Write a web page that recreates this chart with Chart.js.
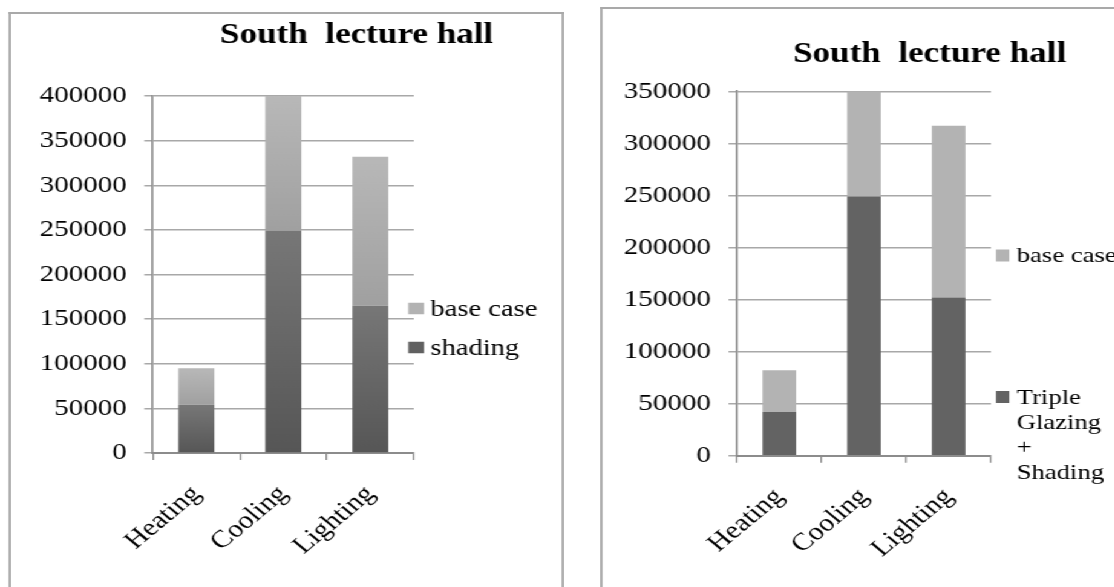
<!DOCTYPE html>
<html>
<head>
<meta charset="utf-8">
<script src="https://cdn.jsdelivr.net/npm/chart.js@4/dist/chart.umd.min.js"></script>
<style>
  html, body { margin: 0; padding: 0; background: #fff; width: 1114px; height: 587px; overflow: hidden; }
  /* the whole figure is laid out in a narrower frame and widened horizontally */
  #stage { position: absolute; left: 0; top: 0; width: 921px; height: 587px; transform: scaleX(1.21); transform-origin: 0 0; overflow: hidden; }
  .rule { position: absolute; background: #a9a9a9; }
  canvas { position: absolute; top: 0; }
  #cL { left: 0; width: 480px; height: 587px; }
  #cR { left: 490px; width: 431px; height: 587px; }
</style>
</head>
<body>
<div id="stage">
  <!-- panel outlines -->
  <div class="rule" style="left:7px;top:12px;width:459px;height:2px"></div>
  <div class="rule" style="left:7px;top:12px;width:1.7px;height:600px"></div>
  <div class="rule" style="left:464.2px;top:12px;width:1.7px;height:600px"></div>
  <div class="rule" style="left:496.2px;top:7px;width:430px;height:2px"></div>
  <div class="rule" style="left:496.2px;top:7px;width:1.7px;height:600px"></div>
  <canvas id="cL" width="480" height="587"></canvas>
  <canvas id="cR" width="431" height="587"></canvas>
</div>
<script>
// Energy use of the south lecture hall per end use
const categories = ['Heating', 'Cooling', 'Lighting'];

// left panel: shading measure stacked with the remaining base-case share
const leftShading = [54000, 249000, 165000];
const leftBaseCase = [41000, 151000, 167000];
const leftTickLabels = ['0', '50000', '100000', '150000', '200000', '250000', '300000', '350000', '400000'];

// right panel: triple glazing + shading stacked with the remaining base-case share
const rightTripleShading = [42000, 249000, 152000];
const rightBaseCase = [40000, 101000, 165000];
const rightTickLabels = ['0', '50000', '100000', '150000', '200000', '250000', '300000', '350000'];

const SERIF = "'Liberation Serif', 'Times New Roman', serif";

// vertical gradient over each stacked segment, computed from the data through the y scale
function segmentGradient(top, bottom) {
  return (ctx) => {
    const chart = ctx.chart;
    if (!chart.chartArea || ctx.type !== 'data') return bottom;
    const y = chart.scales.y;
    const i = ctx.dataIndex;
    let start = 0;
    for (let k = 0; k < ctx.datasetIndex; k++) start += chart.data.datasets[k].data[i];
    const end = start + chart.data.datasets[ctx.datasetIndex].data[i];
    const g = chart.ctx.createLinearGradient(0, y.getPixelForValue(end), 0, y.getPixelForValue(start));
    g.addColorStop(0, top);
    g.addColorStop(1, bottom);
    return g;
  };
}

function wrapWords(c, text, maxWidth) {
  const words = text.split(' ');
  const lines = [];
  let cur = '';
  words.forEach(w => {
    const test = cur ? cur + ' ' + w : w;
    if (cur && c.measureText(test).width > maxWidth) { lines.push(cur); cur = w; }
    else cur = test;
  });
  if (cur) lines.push(cur);
  return lines;
}

// title and side legend of each panel
const panelText = {
  id: 'panelText',
  afterDraw(chart, args, o) {
    const c = chart.ctx;
    c.save();
    c.fillStyle = '#000';
    c.font = `bold ${o.titleSize}px ${SERIF}`;
    c.textAlign = 'center';
    c.textBaseline = 'alphabetic';
    c.fillText(o.title, o.titleX, o.titleY);
    c.font = `${o.legendSize}px ${SERIF}`;
    c.textAlign = 'left';
    o.items.forEach(item => {
      const ds = chart.data.datasets[item.dataset];
      c.fillStyle = item.swatch;
      c.fillRect(o.swatchX, item.y - o.swatchH / 2, o.swatchW, o.swatchH);
      c.fillStyle = '#000';
      wrapWords(c, ds.label, o.maxWidth).forEach((ln, j) => {
        c.fillText(ln, o.textX, item.y + o.baseline + j * o.lineHeight);
      });
    });
    c.restore();
  }
};

function scalesFor(max, step, tickLabels, axisWidth, xHeight, labelPad) {
  return {
    x: {
      stacked: true,
      grid: { drawOnChartArea: false, drawTicks: true, tickLength: 7, color: '#8c8c8c', lineWidth: 1.3 },
      border: { color: '#8c8c8c', width: 2 },
      ticks: { color: '#000', font: { family: SERIF, size: 24.5 }, minRotation: 45, maxRotation: 45, padding: 20, autoSkip: false },
      afterFit: s => { s.height = xHeight; }
    },
    y: {
      stacked: true, min: 0, max: max,
      grid: { color: '#a8a8a8', lineWidth: 1.5, tickLength: 7 },
      border: { color: '#8c8c8c', width: 1.7 },
      ticks: { stepSize: step, color: '#000', font: { family: SERIF, size: 24 }, padding: labelPad,
               callback: (v, i) => tickLabels[i] },
      afterFit: s => { s.width = axisWidth; }
    }
  };
}

new Chart(document.getElementById('cL'), {
  type: 'bar',
  data: {
    labels: categories,
    datasets: [
      { label: 'shading', data: leftShading, backgroundColor: segmentGradient('#777777', '#565656') },
      { label: 'base case', data: leftBaseCase, backgroundColor: segmentGradient('#b8b8b8', '#a0a0a0') }
    ]
  },
  options: {
    responsive: false, animation: false, devicePixelRatio: 1,
    layout: { padding: { left: 0, top: 96, right: 138, bottom: 0 } },
    datasets: { bar: { categoryPercentage: 1, barPercentage: 0.414 } },
    plugins: {
      legend: { display: false }, tooltip: { enabled: false },
      panelText: {
        title: 'South  lecture hall', titleSize: 29, titleX: 294.7, titleY: 43,
        legendSize: 23.6, swatchX: 337.4, swatchW: 13, swatchH: 11.5, textX: 355.7,
        baseline: 7.5, lineHeight: 25, maxWidth: 140,
        items: [ { dataset: 1, y: 308.5, swatch: '#b2b2b2' }, { dataset: 0, y: 347.5, swatch: '#606060' } ]
      }
    },
    scales: scalesFor(400000, 50000, leftTickLabels, 126.3, 134, 14.5)
  },
  plugins: [panelText]
});

new Chart(document.getElementById('cR'), {
  type: 'bar',
  data: {
    labels: categories,
    datasets: [
      { label: 'Triple Glazing + Shading', data: rightTripleShading, backgroundColor: '#636363' },
      { label: 'base case', data: rightBaseCase, backgroundColor: '#b3b3b3' }
    ]
  },
  options: {
    responsive: false, animation: false, devicePixelRatio: 1,
    layout: { padding: { left: 0, top: 91.3, right: 102, bottom: 0 } },
    datasets: { bar: { categoryPercentage: 1, barPercentage: 0.397 } },
    plugins: {
      legend: { display: false }, tooltip: { enabled: false },
      panelText: {
        title: 'South  lecture hall', titleSize: 29, titleX: 278.3, titleY: 62,
        legendSize: 22, swatchX: 333.1, swatchW: 11, swatchH: 12, textX: 350.3,
        baseline: 6.5, lineHeight: 25, maxWidth: 86,
        items: [ { dataset: 1, y: 255.5, swatch: '#b3b3b3' }, { dataset: 0, y: 397, swatch: '#636363' } ]
      }
    },
    scales: scalesFor(350000, 50000, rightTickLabels, 119.1, 131.3, 14.5)
  },
  plugins: [panelText]
});
</script>
</body>
</html>
